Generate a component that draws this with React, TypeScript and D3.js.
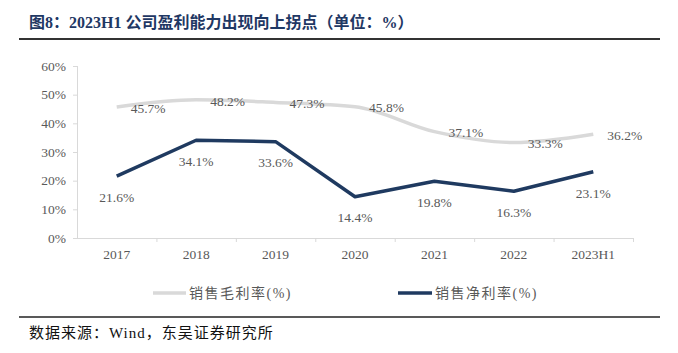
import React from "react";
import * as d3 from "d3";

const categories = ["2017", "2018", "2019", "2020", "2021", "2022", "2023H1"];
const grossMargin = [45.7, 48.2, 47.3, 45.8, 37.1, 33.3, 36.2];
const netMargin = [21.6, 34.1, 33.6, 14.4, 19.8, 16.3, 23.1];
const yTicks = [0, 10, 20, 30, 40, 50, 60];
const seriesNames = ["销售毛利率(%)", "销售净利率(%)"];
const title = "图8：2023H1 公司盈利能力出现向上拐点（单位：%）";
const source = "数据来源：Wind，东吴证券研究所";

const W = 678;
const H = 353;
const FONT = "Liberation Serif, DejaVu Serif, serif";
const CJK = "Liberation Serif, Noto Sans CJK SC, serif";
const GRAY = "#d9d9d9";
const NAVY = "#1f3a60";
const TXT = "#595959";

export default function App() {
  const x = d3.scaleBand<string>().domain(categories).range([77, 633]).padding(0);
  const y = d3.scaleLinear().domain([0, 60]).range([238, 66]);
  const cx = (c: string) => (x(c) as number) + x.bandwidth() / 2;

  const grossLine = d3
    .line<number>()
    .x((_, i) => cx(categories[i]))
    .y((d) => y(d))
    .curve(d3.curveMonotoneX)(grossMargin) as string;
  const netLine = d3
    .line<number>()
    .x((_, i) => cx(categories[i]))
    .y((d) => y(d))(netMargin) as string;

  const num = { fontFamily: FONT, fontSize: 13.5 } as React.CSSProperties;
  const cjk = { fontFamily: CJK } as React.CSSProperties;

  return (
    <svg
      width={W}
      height={H}
      style={{ position: "absolute", left: 0, top: 0, background: "#fff" }}
    >
      <rect x={0} y={0} width={W} height={H} fill="#fff" />
      {/* Title */}
      <text x={29} y={28} style={{ ...cjk, fontSize: 16, fontWeight: "bold" }} fill="#1f3864">
        {title}
      </text>
      <line x1={19} x2={660} y1={39} y2={39} stroke="#333" strokeWidth={2} />

      {/* Y axis */}
      <line x1={77.5} x2={77.5} y1={y(60)} y2={y(0)} stroke={GRAY} strokeWidth={1} />
      {yTicks.map((t) => (
        <g key={t}>
          <line x1={73} x2={77.5} y1={y(t) + 0.5} y2={y(t) + 0.5} stroke={GRAY} />
          <text x={66} y={y(t)} dy="0.35em" textAnchor="end" style={num} fill={TXT}>
            {t}%
          </text>
        </g>
      ))}

      {/* X axis */}
      <line x1={77} x2={633} y1={y(0) + 0.5} y2={y(0) + 0.5} stroke={GRAY} />
      {categories.map((c) => (
        <line
          key={"t" + c}
          x1={(x(c) as number) + x.bandwidth() + 0.5}
          x2={(x(c) as number) + x.bandwidth() + 0.5}
          y1={y(0)}
          y2={y(0) + 4}
          stroke={GRAY}
        />
      ))}
      {categories.map((c) => (
        <text key={"l" + c} x={cx(c)} y={254} dy="0.35em" textAnchor="middle" style={num} fill={TXT}>
          {c}
        </text>
      ))}

      {/* Lines */}
      <path d={grossLine} fill="none" stroke={GRAY} strokeWidth={3.5} strokeLinejoin="round" />
      <path d={netLine} fill="none" stroke={NAVY} strokeWidth={3.5} strokeLinejoin="round" />

      {/* Labels */}
      {grossMargin.map((v, i) => (
        <text key={"g" + i} x={cx(categories[i]) + 14} y={y(v) + 1} dy="0.35em" style={num} fill={TXT}>
          {v.toFixed(1)}%
        </text>
      ))}
      {netMargin.map((v, i) => (
        <text
          key={"n" + i}
          x={cx(categories[i])}
          y={y(v) + 21}
          dy="0.35em"
          textAnchor="middle"
          style={num}
          fill={TXT}
        >
          {v.toFixed(1)}%
        </text>
      ))}

      {/* Legend */}
      <line x1={153} x2={186} y1={293} y2={293} stroke={GRAY} strokeWidth={3.5} />
      <text x={189} y={293} dy="0.35em" style={{ ...cjk, fontSize: 14, letterSpacing: 1.5 }} fill={TXT}>
        {seriesNames[0]}
      </text>
      <line x1={398} x2={432} y1={293} y2={293} stroke={NAVY} strokeWidth={3.5} />
      <text x={435} y={293} dy="0.35em" style={{ ...cjk, fontSize: 14, letterSpacing: 1.5 }} fill={TXT}>
        {seriesNames[1]}
      </text>

      {/* Source */}
      <line x1={19} x2={660} y1={317} y2={317} stroke="#222" strokeWidth={1.5} />
      <text x={29} y={333} dy="0.35em" style={{ ...cjk, fontSize: 15, letterSpacing: 1 }} fill="#111">
        {source}
      </text>
    </svg>
  );
}
